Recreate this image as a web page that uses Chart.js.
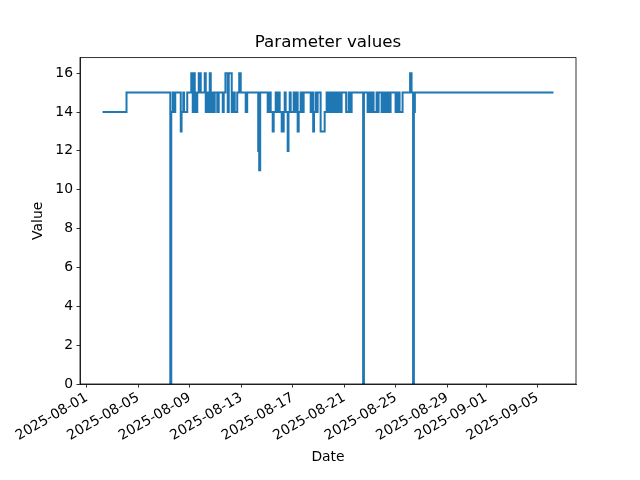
<!DOCTYPE html>
<html>
<head>
<meta charset="utf-8">
<script src="https://cdn.jsdelivr.net/npm/chart.js@4"></script>
<style>
  body { margin: 0; background: #fff; }
  canvas { display: block; }
</style>
</head>
<body>
<canvas id="paramChart" width="640" height="480"></canvas>
<script>
// Change points of the series (value holds until the next time)
const times = [
  '2025-08-02T05:15', '2025-08-04T01:55',
  '2025-08-07T11:30', '2025-08-07T13:20', '2025-08-07T16:05', '2025-08-07T17:35', '2025-08-07T20:45',
  '2025-08-08T07:00', '2025-08-08T08:30', '2025-08-08T11:40', '2025-08-08T13:10', '2025-08-08T19:05',
  '2025-08-09T02:35', '2025-08-09T05:20', '2025-08-09T07:15', '2025-08-09T09:05', '2025-08-09T10:35',
  '2025-08-09T13:45', '2025-08-09T16:30', '2025-08-09T20:15',
  '2025-08-10T03:40', '2025-08-10T05:35', '2025-08-10T08:20', '2025-08-10T10:15', '2025-08-10T13:00',
  '2025-08-10T14:55', '2025-08-10T18:35', '2025-08-10T20:30', '2025-08-10T22:20',
  '2025-08-11T03:00', '2025-08-11T05:45', '2025-08-11T13:15', '2025-08-11T15:05', '2025-08-11T18:15',
  '2025-08-11T22:30', '2025-08-12T00:25', '2025-08-12T06:00', '2025-08-12T09:40', '2025-08-12T11:35',
  '2025-08-12T16:15', '2025-08-12T19:55', '2025-08-12T22:45',
  '2025-08-13T08:00', '2025-08-13T10:50',
  '2025-08-14T07:20', '2025-08-14T09:10', '2025-08-14T11:00',
  '2025-08-15T01:00', '2025-08-15T04:45', '2025-08-15T06:35', '2025-08-15T10:20', '2025-08-15T12:10',
  '2025-08-15T15:55', '2025-08-15T17:45', '2025-08-15T20:35', '2025-08-15T23:20',
  '2025-08-16T03:05', '2025-08-16T06:50', '2025-08-16T08:40', '2025-08-16T10:30', '2025-08-16T14:15',
  '2025-08-16T15:45', '2025-08-16T18:00', '2025-08-16T19:50',
  '2025-08-17T01:25', '2025-08-17T03:15', '2025-08-17T07:00', '2025-08-17T08:50', '2025-08-17T10:45',
  '2025-08-17T14:25', '2025-08-17T16:20', '2025-08-17T20:00',
  '2025-08-18T09:05', '2025-08-18T11:50', '2025-08-18T13:45', '2025-08-18T15:15', '2025-08-18T18:25',
  '2025-08-18T20:15', '2025-08-18T22:05',
  '2025-08-19T03:40', '2025-08-19T11:10', '2025-08-19T14:50', '2025-08-19T16:45', '2025-08-19T20:25',
  '2025-08-19T22:20',
  '2025-08-20T02:00', '2025-08-20T03:55', '2025-08-20T07:35', '2025-08-20T09:30', '2025-08-20T13:10',
  '2025-08-20T15:05', '2025-08-20T18:45',
  '2025-08-21T03:10', '2025-08-21T07:50', '2025-08-21T09:40', '2025-08-21T13:25',
  '2025-08-22T10:50', '2025-08-22T12:20', '2025-08-22T19:10', '2025-08-22T22:55',
  '2025-08-23T00:45', '2025-08-23T04:30', '2025-08-23T06:20', '2025-08-23T11:55', '2025-08-23T13:50',
  '2025-08-23T15:40', '2025-08-23T21:15',
  '2025-08-24T01:00', '2025-08-24T03:45', '2025-08-24T06:35', '2025-08-24T10:20', '2025-08-24T14:00',
  '2025-08-24T23:20',
  '2025-08-25T03:05', '2025-08-25T06:45', '2025-08-25T12:20',
  '2025-08-26T02:20', '2025-08-26T05:05', '2025-08-26T07:55', '2025-08-26T09:25', '2025-08-26T11:15',
  '2025-09-06T05:30'
];
const values = [
  14, 15,
  0, 14, 15, 14, 15,
  13, 14, 15, 14, 15,
  16, 14, 16, 15, 14,
  15, 16, 15,
  16, 14, 15, 14, 16,
  14, 15, 14, 15,
  14, 15, 14, 15, 16,
  14, 16, 14, 15, 14,
  15, 16, 15,
  14, 15,
  12, 11, 15,
  14, 15, 14, 13, 14,
  15, 14, 15, 14,
  13, 14, 15, 14, 12,
  14, 15, 14,
  15, 14, 15, 13, 14,
  15, 14, 15,
  14, 15, 13, 14, 15,
  14, 15,
  13, 14, 15, 14, 15,
  14,
  15, 14, 15, 14, 15,
  14, 15,
  14, 15, 14, 15,
  0, 15, 14, 15,
  14, 15, 14, 15, 14,
  15, 14,
  15, 14, 15, 14, 15,
  14,
  15, 14, 15,
  16, 15, 0, 14, 15,
  15
];

const xTickLabels = ['2025-08-01', '2025-08-05', '2025-08-09', '2025-08-13', '2025-08-17',
  '2025-08-21', '2025-08-25', '2025-08-29', '2025-09-01', '2025-09-05'];
const yTicks = [0, 2, 4, 6, 8, 10, 12, 14, 16];
const xMin = '2025-07-31T11:15';
const xMax = '2025-09-07T23:30';

const toMs = s => Date.parse(s.length === 10 ? s + 'T00:00Z' : s + 'Z');

Chart.defaults.font.family = 'DejaVu Sans';
Chart.defaults.color = '#000';

// matplotlib-style box around the axes
const frame = {
  id: 'frame',
  afterDraw(chart) {
    const { ctx, chartArea: a } = chart;
    ctx.save();
    ctx.strokeStyle = '#000';
    ctx.lineWidth = 0.8;
    ctx.strokeRect(a.left, a.top, a.right - a.left, a.bottom - a.top);
    ctx.restore();
  }
};

const ctx = document.getElementById('paramChart').getContext('2d');
new Chart(ctx, {
  type: 'line',
  data: {
    datasets: [{
      label: 'Value',
      data: times.map((t, i) => ({ x: toMs(t), y: values[i] })),
      borderColor: '#1f77b4',
      borderWidth: 2,
      pointRadius: 0,
      stepped: 'before',
      fill: false
    }]
  },
  options: {
    responsive: false,
    animation: false,
    layout: { padding: { left: 0, right: 64, top: 0, bottom: 0 } },
    plugins: {
      legend: { display: false },
      tooltip: { enabled: false },
      title: {
        display: true,
        text: 'Parameter values',
        fullSize: false,
        font: { size: 16.7, weight: 'normal' },
        padding: { top: 33, bottom: 4.6 }
      }
    },
    scales: {
      x: {
        type: 'linear',
        min: toMs(xMin),
        max: toMs(xMax),
        afterBuildTicks: scale => { scale.ticks = xTickLabels.map(d => ({ value: toMs(d) })); },
        afterFit: scale => { scale.height = 96; },
        ticks: {
          autoSkip: false,
          minRotation: 30,
          maxRotation: 30,
          padding: 2,
          font: { size: 13.9 },
          callback: v => new Date(v).toISOString().slice(0, 10)
        },
        grid: { drawOnChartArea: false, color: '#000', tickLength: 3.5, tickWidth: 0.8 },
        border: { color: '#000', width: 0.8 },
        title: { display: true, text: 'Date', font: { size: 13.9 }, padding: { top: 0, bottom: 14.7 } }
      },
      y: {
        min: 0,
        max: 16.8,
        afterBuildTicks: scale => { scale.ticks = yTicks.map(v => ({ value: v })); },
        afterFit: scale => { scale.width = 80; },
        ticks: { padding: 3.5, font: { size: 13.9 } },
        grid: { drawOnChartArea: false, color: '#000', tickLength: 3.5, tickWidth: 0.8 },
        border: { color: '#000', width: 0.8 },
        title: { display: true, text: 'Value', font: { size: 13.9 }, padding: { top: 29.7, bottom: 0 } }
      }
    }
  },
  plugins: [frame]
});
</script>
</body>
</html>
